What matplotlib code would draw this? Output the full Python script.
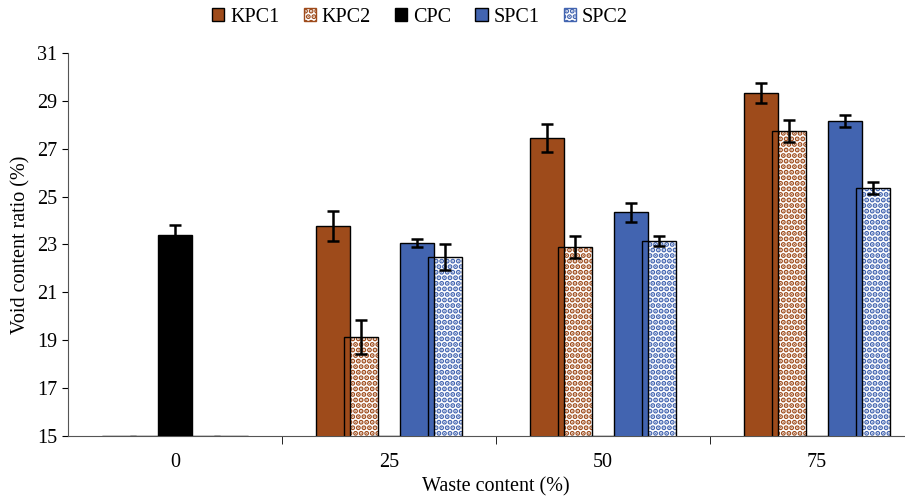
import numpy as np
import matplotlib
matplotlib.use("Agg")
import matplotlib.pyplot as plt
from matplotlib.patches import Patch

# data
categories = ["0", "25", "50", "75"]
series = ["KPC1", "KPC2", "CPC", "SPC1", "SPC2"]
kpc1 = [15.0, 23.77, 27.45, 29.33]
kpc2 = [15.0, 19.14, 22.90, 27.74]
cpc = [23.40, 15.0, 15.0, 15.0]
spc1 = [15.0, 23.06, 24.35, 28.16]
spc2 = [15.0, 22.48, 23.15, 25.36]
kpc1_err = [0, 0.62, 0.60, 0.40]
kpc2_err = [0, 0.70, 0.45, 0.45]
cpc_err = [0.40, 0, 0, 0]
spc1_err = [0, 0.15, 0.40, 0.27]
spc2_err = [0, 0.55, 0.22, 0.27]

plt.rcParams['font.family'] = ['Liberation Serif', 'DejaVu Serif']
plt.rcParams['hatch.linewidth'] = 2.6

brown = '#9E4B1B'
blue = '#4264B0'

values = [kpc1, kpc2, cpc, spc1, spc2]
errors = [kpc1_err, kpc2_err, cpc_err, spc1_err, spc2_err]
faces = [brown, 'white', 'black', blue, 'white']
hatch_col = [None, brown, None, None, blue]
DOTS = '...'

fig = plt.figure(figsize=(9.05, 4.99), dpi=100)
ax = fig.add_axes([0.0751, 0.1263, 0.946, 0.7675])

x = np.arange(len(categories))
step = 0.131
width = 0.159
for i, (vals, errs) in enumerate(zip(values, errors)):
    pos = x + (i - 2) * step
    if hatch_col[i] is not None:
        ax.bar(pos, vals, width, color='white', edgecolor=hatch_col[i],
               hatch=DOTS, linewidth=0, zorder=2)
        ax.bar(pos, vals, width, color='none', edgecolor='black',
               linewidth=1.0, zorder=3)
    else:
        ax.bar(pos, vals, width, color=faces[i], edgecolor='black',
               linewidth=1.0, zorder=3)
    errs = np.array(errs)
    mask = errs > 0
    ax.errorbar(pos[mask], np.array(vals)[mask], yerr=errs[mask], fmt='none',
                ecolor='black', elinewidth=1.8, capsize=4, capthick=1.8, zorder=4)

ax.set_xlim(-0.5, 3.5)
ax.set_ylim(15, 31)
ax.set_yticks(np.arange(15, 32, 2))
ax.set_xticks(x)
ax.set_xticklabels(categories)
ax.set_xticks(x[:-1] + 0.5, minor=True)
ax.tick_params(axis='x', which='major', length=0, pad=12, labelsize=14.5)
ax.tick_params(axis='x', which='minor', length=6, direction='out')
ax.tick_params(axis='y', length=4, labelsize=14.5)
for s in ['top', 'right']:
    ax.spines[s].set_visible(False)
ax.spines['left'].set_color('#555555')
ax.spines['bottom'].set_color('#555555')

ax.set_xlabel("Waste content (%)", fontsize=14.5, labelpad=4)
ax.set_ylabel("Void content ratio (%)", fontsize=14.5)
ax.yaxis.set_label_coords(-0.044, 0.5)

handles = []
for i, name in enumerate(series):
    if hatch_col[i] is not None:
        handles.append(Patch(facecolor='white', edgecolor=hatch_col[i], hatch='...', label=name))
    else:
        handles.append(Patch(facecolor=faces[i], edgecolor='black', label=name))
fig.legend(handles=handles, loc='center', bbox_to_anchor=(0.464, 0.965), ncol=5,
           frameon=False, fontsize=14.5, handlelength=0.6, handleheight=0.6,
           handletextpad=0.3, columnspacing=1.2)

fig.savefig("out.png", dpi=100)
